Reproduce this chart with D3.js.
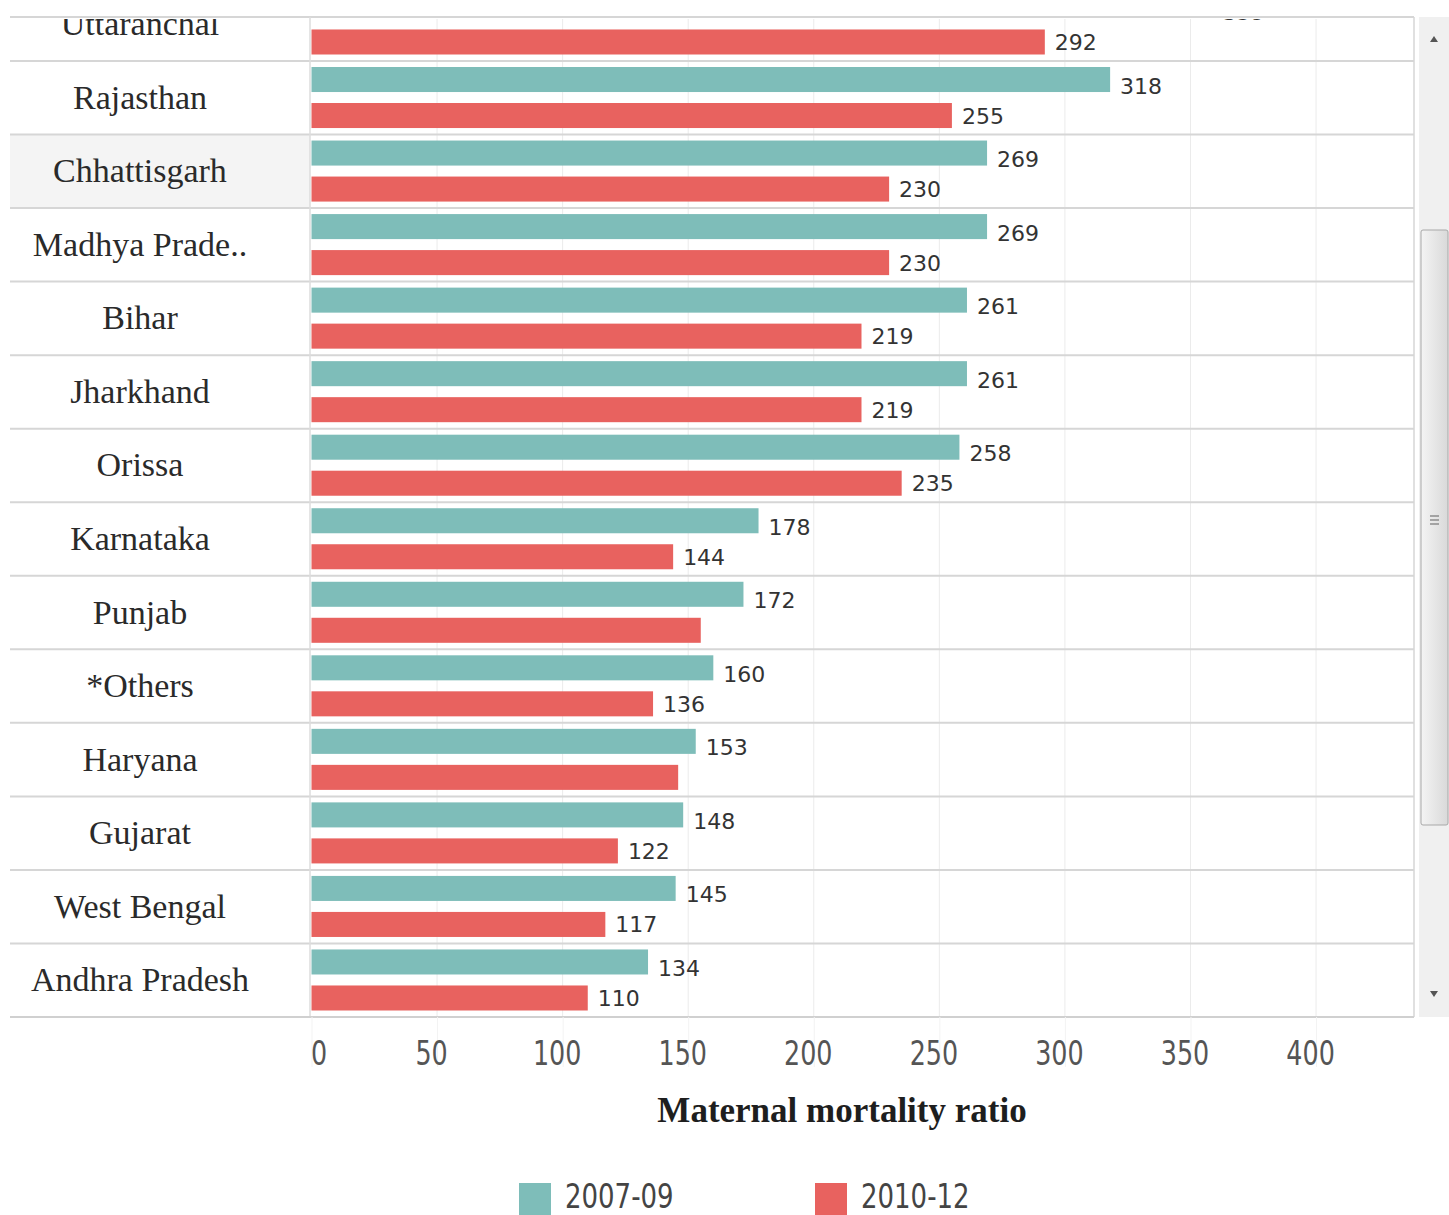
<!DOCTYPE html>
<html>
<head>
<meta charset="utf-8">
<script src="https://cdn.jsdelivr.net/npm/d3@7"></script>
<style>
  html, body { margin: 0; padding: 0; background: #fff; overflow: hidden; }
  svg { display: block; }
</style>
</head>
<body>
<svg id="chart" width="1449" height="1215"></svg>
<script>
// Maternal mortality ratio by state, two survey periods
const states = ["Uttaranchal", "Rajasthan", "Chhattisgarh", "Madhya Prade..", "Bihar", "Jharkhand",
  "Orissa", "Karnataka", "Punjab", "*Others", "Haryana", "Gujarat", "West Bengal", "Andhra Pradesh"];
const periods = ["2007-09", "2010-12"];
const mmr2007 = [359, 318, 269, 269, 261, 261, 258, 178, 172, 160, 153, 148, 145, 134];
const mmr2010 = [292, 255, 230, 230, 219, 219, 235, 144, 155, 136, 146, 122, 117, 110];
// labels suppressed where they would collide with the bar above
const hiddenLabels = ["Punjab|2010-12", "Haryana|2010-12"];
const xTicks = [0, 50, 100, 150, 200, 250, 300, 350, 400];
const colors = ["#7ebdb9", "#e8625f"];

const rows = states.map((s, i) => ({ state: s, values: [mmr2007[i], mmr2010[i]] }));

const svg = d3.select("#chart");

// layout
const labelLeft = 10, paneLeft = 310, paneRight = 1414;
const paneTop = 17, paneBottom = 1017;
const rowStep = (paneBottom - 61) / 13;
const narrowFont = "'DejaVu Sans Condensed', 'DejaVu Sans', sans-serif";
const serifFont = "'Liberation Serif', 'Times New Roman', serif";

const x = d3.scaleLinear().domain([0, 439]).range([paneLeft + 1.5, paneRight]);
const y = d3.scaleBand().domain(states)
  .range([paneBottom - rowStep * states.length, paneBottom]).paddingInner(0).paddingOuter(0);
const yInner = d3.scaleBand().domain(periods).range([6, y.bandwidth() - 6.5]).paddingInner(0.305);
const color = d3.scaleOrdinal().domain(periods).range(colors);

// clip regions for the scrolled view
const defs = svg.append("defs");
defs.append("clipPath").attr("id", "viewClip")
  .append("rect").attr("x", labelLeft).attr("y", paneTop + 2)
  .attr("width", paneRight - labelLeft).attr("height", paneBottom - paneTop - 2);

const view = svg.append("g").attr("clip-path", "url(#viewClip)");

// highlighted row header
view.append("rect")
  .attr("x", labelLeft).attr("y", y("Chhattisgarh"))
  .attr("width", paneLeft - labelLeft).attr("height", y.bandwidth())
  .attr("fill", "#f4f4f4");

// vertical gridlines
view.append("g").selectAll("line").data(xTicks.filter(t => t > 0)).join("line")
  .attr("x1", d => x(d)).attr("x2", d => x(d))
  .attr("y1", paneTop).attr("y2", paneBottom)
  .attr("stroke", "#ebebeb").attr("stroke-width", 1);

// row separators
view.append("g").selectAll("line").data(states).join("line")
  .attr("x1", labelLeft).attr("x2", paneRight)
  .attr("y1", d => y(d) + y.bandwidth()).attr("y2", d => y(d) + y.bandwidth())
  .attr("stroke", "#d6d6d6").attr("stroke-width", 2);

// bars
const rowG = view.append("g").selectAll("g").data(rows).join("g")
  .attr("transform", d => `translate(0,${y(d.state)})`);

rowG.selectAll("rect").data(d => periods.map((p, j) => ({ state: d.state, period: p, value: d.values[j] })))
  .join("rect")
  .attr("x", x(0))
  .attr("y", d => yInner(d.period))
  .attr("width", d => x(d.value) - x(0))
  .attr("height", yInner.bandwidth())
  .attr("fill", d => color(d.period));

// value labels
rowG.selectAll("text.val")
  .data(d => periods.map((p, j) => ({ state: d.state, period: p, value: d.values[j] }))
    .filter(e => !hiddenLabels.includes(e.state + "|" + e.period)))
  .join("text").attr("class", "val")
  .attr("x", d => x(d.value) + 10)
  .attr("y", d => yInner(d.period) + yInner.bandwidth() / 2 + (d.period === periods[0] ? 6 : 0) + 8)
  .attr("font-family", "'DejaVu Sans', sans-serif")
  .attr("font-size", 22)
  .attr("fill", "#333")
  .text(d => d.value);

// row headers
view.append("g").selectAll("text").data(states).join("text")
  .attr("x", 140)
  .attr("y", d => y(d) + y.bandwidth() / 2 + 11)
  .attr("text-anchor", "middle")
  .attr("font-family", serifFont)
  .attr("font-size", 34)
  .attr("fill", "#2a2a2a")
  .text(d => d);

// pane borders
svg.append("line").attr("x1", labelLeft).attr("x2", paneRight)
  .attr("y1", paneTop).attr("y2", paneTop).attr("stroke", "#d6d6d6").attr("stroke-width", 2);
svg.append("line").attr("x1", paneLeft).attr("x2", paneLeft)
  .attr("y1", paneTop).attr("y2", paneBottom).attr("stroke", "#dcdcdc").attr("stroke-width", 1.5);
svg.append("line").attr("x1", paneRight).attr("x2", paneRight)
  .attr("y1", paneTop).attr("y2", paneBottom).attr("stroke", "#d6d6d6").attr("stroke-width", 1.5);

// x axis
const xAxis = d3.axisBottom(x).tickValues(xTicks).tickSize(0).tickPadding(0).tickFormat(d3.format("d"));
const axisG = svg.append("g").attr("transform", `translate(0,${paneBottom})`).call(xAxis);
axisG.select(".domain").attr("stroke", "#d0d0d0").attr("stroke-width", 2)
  .attr("d", `M${labelLeft},0H${paneRight}`);
axisG.selectAll(".tick line").attr("y2", 50).attr("stroke", "#f3f3f3");
axisG.selectAll(".tick text")
  .attr("dy", 0).attr("y", 48)
  .attr("transform", (d, i) => `translate(${i === 0 ? 7 : -6},0) scale(0.83,1)`)
  .attr("font-family", narrowFont)
  .attr("font-size", 34)
  .attr("fill", "#555");

// axis title
svg.append("text")
  .attr("x", 842).attr("y", 1122)
  .attr("text-anchor", "middle")
  .attr("font-family", serifFont)
  .attr("font-weight", "bold")
  .attr("font-size", 35)
  .attr("fill", "#1e1e1e")
  .text("Maternal mortality ratio");

// legend
const legendX = [519, 815];
const legend = svg.append("g").selectAll("g").data(periods).join("g")
  .attr("transform", (d, i) => `translate(${legendX[i]},1183)`);
legend.append("rect").attr("width", 32).attr("height", 32).attr("fill", d => color(d));
legend.append("text")
  .attr("transform", "translate(46,25) scale(0.85,1)")
  .attr("font-family", narrowFont)
  .attr("font-size", 34).attr("fill", "#444")
  .text(d => d);

// scrollbar
const sb = svg.append("g").attr("transform", "translate(1419,17)");
sb.append("rect").attr("width", 30).attr("height", 1000).attr("fill", "#f0f0f0");
const grad = defs.append("linearGradient").attr("id", "thumbGrad").attr("x1", 0).attr("x2", 1);
grad.append("stop").attr("offset", 0).attr("stop-color", "#f4f4f4");
grad.append("stop").attr("offset", 1).attr("stop-color", "#d9d9d9");
sb.append("rect").attr("x", 2).attr("y", 213).attr("width", 27).attr("height", 595).attr("rx", 2)
  .attr("fill", "url(#thumbGrad)").attr("stroke", "#a8a8a8");
[-4, 0, 4].forEach(o => sb.append("line").attr("x1", 11).attr("x2", 20)
  .attr("y1", 503 + o).attr("y2", 503 + o).attr("stroke", "#777").attr("stroke-width", 1.2));
sb.append("path").attr("d", "M11,25 L19,25 L15,19 Z").attr("fill", "#555");
sb.append("path").attr("d", "M11,974 L19,974 L15,980 Z").attr("fill", "#555");
</script>
</body>
</html>
